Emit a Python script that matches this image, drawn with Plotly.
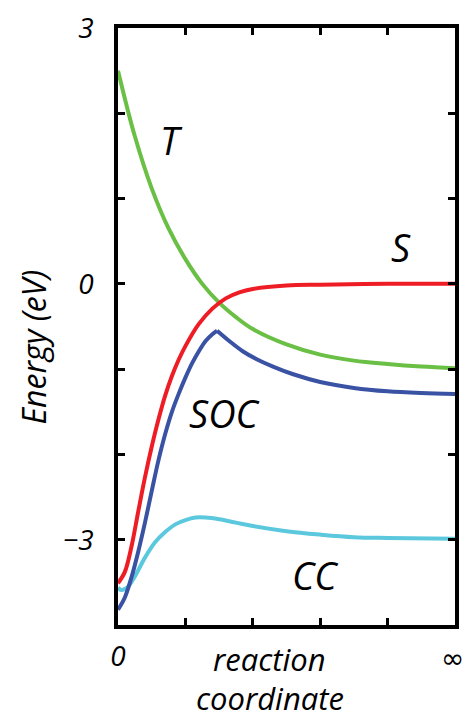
import plotly.graph_objects as go

# ---- data ----
t_x = [0.0, 0.25, 0.5, 0.75, 1.0, 1.25, 1.5, 1.75, 2.0, 2.5, 3.0, 3.5, 4.0, 4.5, 5.0]
t_y = [2.50, 1.73, 1.12, 0.65, 0.29, 0.00, -0.22, -0.39, -0.53, -0.71, -0.83, -0.90, -0.94, -0.97, -0.99]

s_x = [0.0, 0.1, 0.2, 0.3, 0.4, 0.5, 0.6, 0.7, 0.8, 0.9, 1.0, 1.2, 1.4, 1.6, 1.8, 2.0, 2.5, 3.0, 4.0, 5.0]
s_y = [-3.51, -3.38, -3.08, -2.67, -2.27, -1.91, -1.59, -1.31, -1.08, -0.89, -0.73, -0.47, -0.29, -0.17,
       -0.10, -0.06, -0.02, -0.01, 0.0, 0.0]

soc_x = [0.0, 0.1, 0.2, 0.3, 0.4, 0.5, 0.6, 0.7, 0.8, 0.9, 1.0, 1.1, 1.2, 1.3, 1.4, 1.47,
         1.65, 1.85, 2.05, 2.3, 2.6, 3.0, 3.5, 4.0, 4.5, 5.0]
soc_y = [-3.82, -3.68, -3.44, -3.14, -2.80, -2.43, -2.07, -1.76, -1.50, -1.29, -1.10, -0.93, -0.79,
         -0.67, -0.59, -0.55,
         -0.67, -0.79, -0.88, -0.97, -1.06, -1.15, -1.22, -1.26, -1.28, -1.29]
soc_peak = 15  # index of the cusp

cc_x = [0.0, 0.05, 0.15, 0.25, 0.4, 0.55, 0.7, 0.85, 1.0, 1.15, 1.3, 1.5, 1.75, 2.0, 2.5, 3.0, 3.5, 4.0, 5.0]
cc_y = [-3.56, -3.59, -3.55, -3.43, -3.21, -3.03, -2.91, -2.82, -2.77, -2.74, -2.74, -2.76, -2.80,
        -2.84, -2.90, -2.94, -2.97, -2.98, -2.99]

y_ticks = [-4, -3, -2, -1, 0, 1, 2, 3]
y_ticktext = ["", "\u22123", "", "", "0", "", "", "3"]
x_ticks = [0, 1, 2, 3, 4, 5]
x_ticktext = ["0", "", "", "", "", "\u221e"]

labels = ["T", "S", "SOC", "CC"]
label_x = [0.80, 4.2, 1.59, 2.93]
label_y = [1.69, 0.43, -1.51, -3.41]

x_title_lines = ["reaction", "coordinate"]

GREEN = "#6abf45"
RED = "#ee1d25"
BLUE = "#3a52a3"
CYAN = "#5cc8de"
FONT = "Open Sans"

fig = go.Figure()
lw = 4
fig.add_trace(go.Scatter(x=t_x, y=t_y, mode="lines", line=dict(color=GREEN, width=lw, shape="spline")))
fig.add_trace(go.Scatter(x=cc_x, y=cc_y, mode="lines", line=dict(color=CYAN, width=lw, shape="spline")))
fig.add_trace(go.Scatter(x=soc_x[:soc_peak + 1], y=soc_y[:soc_peak + 1], mode="lines",
                         line=dict(color=BLUE, width=lw, shape="spline")))
fig.add_trace(go.Scatter(x=soc_x[soc_peak:], y=soc_y[soc_peak:], mode="lines",
                         line=dict(color=BLUE, width=lw, shape="spline")))
fig.add_trace(go.Scatter(x=s_x, y=s_y, mode="lines", line=dict(color=RED, width=lw, shape="spline")))

for txt, lx, ly in zip(labels, label_x, label_y):
    fig.add_annotation(x=lx, y=ly, text=txt, showarrow=False, xref="x", yref="y",
                       font=dict(family=FONT, size=38, color="black", style="italic"))

# infinity tick label drawn separately with a glyph of suitable size
fig.add_annotation(x=x_ticks[5], y=0, xref="x", yref="paper", text=x_ticktext[5],
                   showarrow=False, yanchor="top", yshift=-15, xshift=-3,
                   font=dict(family="DejaVu Sans", size=28, color="black"))

fig.add_annotation(x=0.0, y=0.5, xref="paper", yref="paper", text="Energy (eV)",
                   textangle=-90, showarrow=False, xanchor="center", yanchor="middle",
                   xshift=-85, yshift=-21,
                   font=dict(family=FONT, size=32, color="black", style="italic"))

for txt, ys in zip(x_title_lines, [-34, -73]):
    fig.add_annotation(x=0.45, y=0.0, xref="paper", yref="paper", text=txt,
                       showarrow=False, yanchor="middle", xanchor="center", yshift=ys,
                       borderpad=0,
                       font=dict(family=FONT, size=31, color="black", style="italic"))

axis_common = dict(showline=True, linecolor="black", linewidth=3.5, mirror="ticks",
                   ticks="inside", ticklen=7, tickwidth=2.5, tickcolor="black",
                   showgrid=False, zeroline=False,
                   tickfont=dict(family=FONT, size=28, color="black", style="italic"))

fig.update_xaxes(range=[0, 5], tickmode="array", tickvals=x_ticks,
                 ticktext=x_ticktext[:5] + [""], ticklabelstandoff=4, **axis_common)
fig.update_yaxes(range=[-4, 3], tickmode="array", tickvals=y_ticks, ticktext=y_ticktext,
                 ticklabelstandoff=15, **axis_common)

fig.update_layout(width=465, height=720, showlegend=False,
                  margin=dict(l=118, r=10, t=28, b=95, autoexpand=False),
                  plot_bgcolor="white", paper_bgcolor="white")

# remove the default 8px page margin so the figure fills the window exactly
fig.write_html("out.html", config={"displayModeBar": False},
               post_script="document.body.style.margin='0';document.body.style.overflow='hidden';")
